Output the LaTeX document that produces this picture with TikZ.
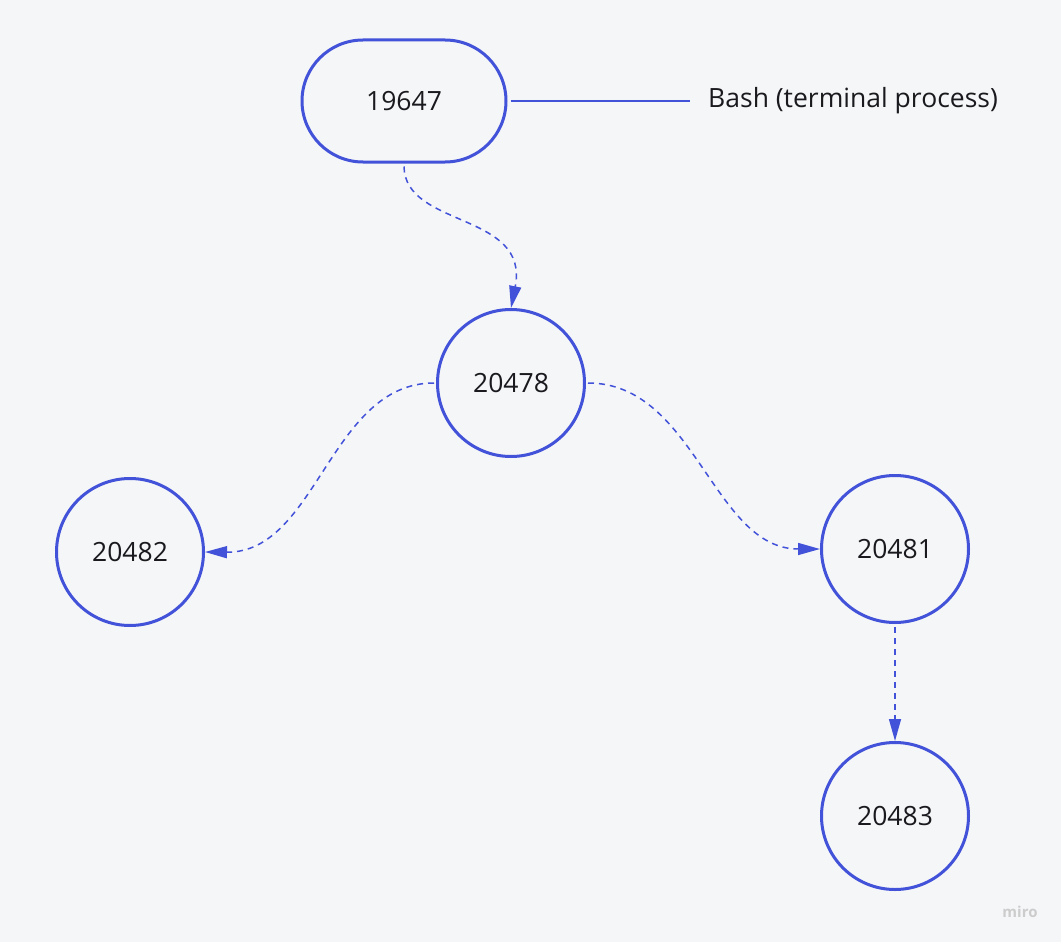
\documentclass[tikz,border=0pt]{standalone}
\usepackage{fontspec}
\setmainfont{Open Sans}
\usetikzlibrary{arrows.meta}
\definecolor{pblue}{RGB}{66,82,217}
\definecolor{bgcol}{RGB}{245,246,248}
\definecolor{txtcol}{RGB}{26,26,30}
\begin{document}
\begin{tikzpicture}[x=1pt,y=-1pt,
proc/.style ={circle, draw=pblue, line width=3pt, fill=bgcol,
  minimum size=147pt, inner sep=0pt, text=txtcol,
  font=\fontsize{26.5}{30}\selectfont
},
term/.style ={rectangle, draw=pblue, line width=3pt, fill=bgcol,
  minimum width=204pt, minimum height=122pt, rounded corners=61pt,
  text=txtcol, font=\fontsize{26.5}{30}\selectfont
},
fork/.style ={draw=pblue, line width=1.5pt, dash pattern=on 6pt off 5pt,
  -{Triangle[length=22pt,width=12pt]}
}]
\fill[bgcol] (0,0) rectangle (1061,942);
\useasboundingbox (0,0) rectangle (1061,942);
% processes
\node (bash) at (404,101) [term] {19647};
\node (p20478) at (511,383) [proc] {20478};
\node (p20482) at (130,552) [proc] {20482};
\node (p20481) at (895,549) [proc] {20481};
\node (p20483) at (895,816) [proc] {20483};
% label
\node (lbl) at (708,101) [anchor=west, inner sep=0pt, text=txtcol,
  font=\fontsize{26.5}{30}\selectfont] {Bash (terminal process)};
\draw[pblue, line width=2.6pt] (bash.east) ++(3,0) -- ([xshift=-18pt]lbl.west);
% forks
\draw[fork] (bash.south) ++(0,3) .. controls (405,228) and (530,212) .. (p20478.north);
\draw[fork] (p20478.west) ++(-2,0) .. controls (330,383) and (317,553) .. (p20482.east);
\draw[fork] (p20478.east) ++(2,0) .. controls (695,383) and (713,549) .. (p20481.west);
\draw[fork] (p20481.south) ++(0,3) -- (p20483.north);
% watermark
\node (miro) at (1020,912) [text=black!20, font=\fontsize{15}{17}\selectfont\bfseries] {miro};
\end{tikzpicture}
\end{document}
